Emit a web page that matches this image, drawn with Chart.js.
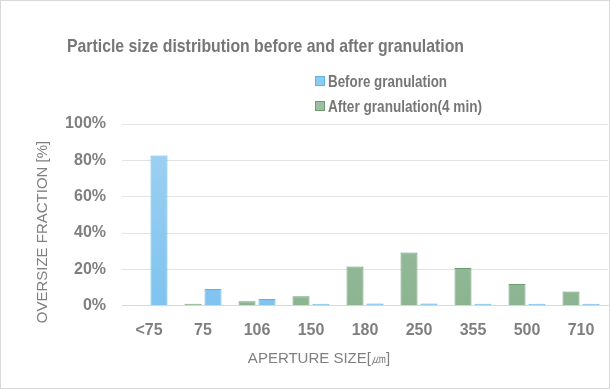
<!DOCTYPE html>
<html>
<head>
<meta charset="utf-8">
<script src="https://cdn.jsdelivr.net/npm/chart.js@4.4.1/dist/chart.umd.min.js"></script>
<style>
  html, body { margin: 0; padding: 0; background: #fff; }
  #wrap { width: 610px; height: 389px; position: relative; }
</style>
</head>
<body>
<div id="wrap"><canvas id="psd" width="610" height="389"></canvas></div>
<script>
let apertureSizes = ["<75", "75", "106", "150", "180", "250", "355", "500", "710"]
let beforeGranulation = [82.7, 9.3, 3.8, 0.5, 1.2, 1.2, 0.5, 0.4, 0.6]
let afterGranulation = [0, 1.1, 2.5, 5.2, 21.6, 29.3, 20.8, 12.0, 7.8]
let yTicks = [0, 20, 40, 60, 80, 100]

let chartTitle = "Particle size distribution before and after granulation"
let xTitle = "APERTURE SIZE[\u339B]"
let yTitle = "OVERSIZE FRACTION [%]"

function vGradient(ctx, top, bottom) {
	let area = ctx.chart.chartArea
	if (!area) return bottom
	let g = ctx.chart.ctx.createLinearGradient(0, area.top, 0, area.bottom)
	g.addColorStop(0, top)
	g.addColorStop(1, bottom)
	return g
}

// narrow text: the original font is a condensed face, so squeeze a normal one to its width
function narrowText(c, text, x, y, width) {
	let w = c.measureText(text).width
	c.save()
	c.translate(x, y)
	c.scale(width / w, 1)
	c.fillText(text, 0, 0)
	c.restore()
}

// title, vertical legend, axis titles and frame drawn by hand to match the layout
let decorPlugin = {
	id: 'decor',
	afterDraw(chart) {
		let c = chart.ctx
		c.save()
		c.strokeStyle = "#d9d9d9"
		c.lineWidth = 1
		c.strokeRect(0.5, 0.5, chart.width - 1, chart.height - 1)

		c.fillStyle = "#767676"
		c.textAlign = "left"
		c.textBaseline = "alphabetic"
		c.font = "bold 19px 'Liberation Sans', Arial, sans-serif"
		narrowText(c, chartTitle, 67, 52, 397)

		// legend (before first, like the reference)
		let items = [
			{ label: "Before granulation", fill: "#8ecbf0", line: "#5ab4e6", w: 119 },
			{ label: "After granulation(4 min)", fill: "#9bbf9f", line: "#6c9b72", w: 154 }
		]
		c.font = "bold 17px 'Liberation Sans', Arial, sans-serif"
		items.forEach(function (it, i) {
			let y = 81 + i * 25
			c.fillStyle = it.fill
			c.fillRect(315, y - 5, 10, 10)
			c.strokeStyle = it.line
			c.strokeRect(315.5, y - 4.5, 9, 9)
			c.fillStyle = "#767676"
			narrowText(c, it.label, 328, y + 6, it.w)
		})

		c.fillStyle = "#7f7f7f"
		c.textAlign = "center"
		c.textBaseline = "middle"
		c.font = "15px 'Liberation Sans', Arial, sans-serif"
		c.fillText(xTitle, 319, 359)

		c.translate(43, 232)
		c.rotate(-Math.PI / 2)
		c.fillText(yTitle, 0, 0)
		c.restore()
	}
}

let psdChart = new Chart(document.getElementById("psd").getContext('2d'), {
	type: 'bar',
	data: {
		labels: apertureSizes,
		datasets: [
			{
				label: "After granulation(4 min)",
				data: afterGranulation,
				backgroundColor: function (ctx) { return vGradient(ctx, "#a6c6aa", "#8bb490") },
				borderColor: "#6c9b72",
				borderWidth: 1,
				categoryPercentage: 0.74,
				barPercentage: 0.85
			},
			{
				label: "Before granulation",
				data: beforeGranulation,
				backgroundColor: function (ctx) { return vGradient(ctx, "#a0d2f2", "#7fc3ef") },
				borderColor: "#5ab4e6",
				borderWidth: 1,
				minBarLength: 2,
				categoryPercentage: 0.74,
				barPercentage: 0.85
			}
		]
	},
	options: {
		responsive: false,
		animation: false,
		layout: {
			padding: { top: 124, right: 2, bottom: 42, left: 0 }
		},
		scales: {
			y: {
				min: 0,
				max: 100,
				afterBuildTicks: function (axis) {
					axis.ticks = yTicks.map(function (v) { return { value: v } })
				},
				ticks: {
					color: "#7f7f7f",
					padding: 16,
					font: { family: "'Liberation Sans', Arial, sans-serif", size: 16, weight: 'bold' },
					callback: function (v) { return v + "%" }
				},
				grid: {
					color: "#e3e3e3",
					drawTicks: false
				},
				border: { display: false },
				afterFit: function (axis) { axis.width = 122 }
			},
			x: {
				ticks: {
					color: "#7f7f7f",
					padding: 7,
					font: { family: "'Liberation Sans', Arial, sans-serif", size: 16, weight: 'bold' }
				},
				grid: { display: false },
				border: { color: "#d9d9d9" }
			}
		},
		plugins: {
			legend: { display: false },
			tooltip: { enabled: false }
		}
	},
	plugins: [decorPlugin]
});
</script>
</body>
</html>
